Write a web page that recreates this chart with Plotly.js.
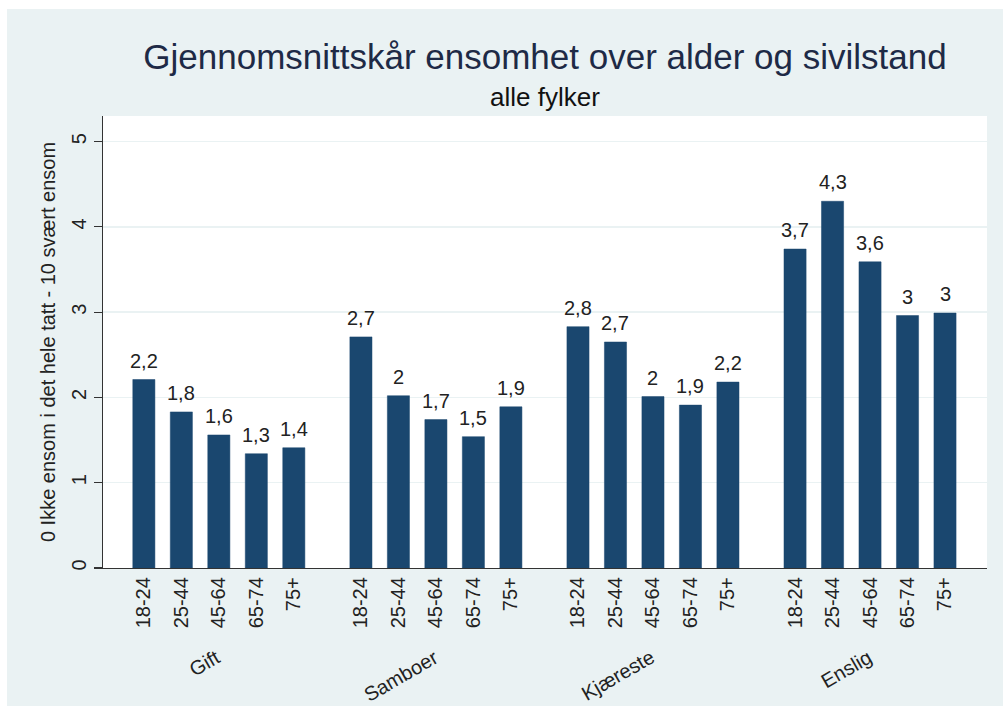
<!DOCTYPE html>
<html>
<head>
<meta charset="utf-8">
<script src="https://cdn.plot.ly/plotly-3.0.1.min.js"></script>
<style>html,body{margin:0;padding:0;background:#fff;}#chart{width:1003px;height:706px;}</style>
</head>
<body>
<div id="chart"></div>
<script>
const groups = ["Gift", "Samboer", "Kjæreste", "Enslig"];
const ages = ["18-24", "25-44", "45-64", "65-74", "75+"];
const gift = [2.21, 1.83, 1.56, 1.34, 1.41];
const samboer = [2.71, 2.02, 1.74, 1.54, 1.89];
const kjaereste = [2.83, 2.65, 2.01, 1.91, 2.18];
const enslig = [3.74, 4.30, 3.59, 2.96, 2.99];
const seriesByGroup = [gift, samboer, kjaereste, enslig];

const groupStep = 5.79;
const xs = [], ys = [], tickText = [], labels = [];
seriesByGroup.forEach((vals, g) => {
  vals.forEach((v, i) => {
    xs.push(g * groupStep + i);
    ys.push(v);
    tickText.push(ages[i]);
    labels.push(String(Math.round(v * 10) / 10).replace('.', ','));
  });
});

const FONT = "Liberation Sans, Arial, sans-serif";
const plotL = 103, plotR = 987, plotT = 116, plotB = 568;
const pw = plotR - plotL, ph = plotB - plotT;

const groupAnn = groups.map((g, gi) => ({
  text: g, x: gi * groupStep + 2, xref: 'x', y: -(643 - plotB) / ph, yref: 'paper',
  xanchor: 'right', yanchor: 'top', xshift: 8, textangle: -30, showarrow: false,
  font: {family: FONT, size: 20, color: '#222'}
}));

const valueAnn = xs.map((x, k) => ({
  text: labels[k], x: x, xref: 'x', y: ys[k], yref: 'y',
  xanchor: 'center', yanchor: 'bottom', yshift: 6, showarrow: false,
  font: {family: FONT, size: 20, color: '#222'}
}));

const trace = {
  type: 'bar', x: xs, y: ys, width: 0.59,
  marker: {color: '#1a476f', line: {color: '#1a476f', width: 0.5}},
  hoverinfo: 'skip'
};

const layout = {
  width: 1003, height: 706,
  margin: {l: plotL, r: 1003 - plotR, t: plotT, b: 706 - plotB},
  paper_bgcolor: '#eaf2f3', plot_bgcolor: '#ffffff',
  font: {family: FONT, color: '#222'},
  showlegend: false,
  title: {
    text: 'Gjennomsnittskår ensomhet over alder og sivilstand',
    font: {family: FONT, size: 35, color: '#1e2a46'},
    x: 0.5, xref: 'paper', y: 1 - 57 / 706, yref: 'container', yanchor: 'middle'
  },
  xaxis: {
    range: [-1.09, 3 * groupStep + 4 + 1.12],
    tickvals: xs, ticktext: tickText, tickangle: -90,
    tickfont: {family: FONT, size: 20, color: '#222'},
    ticks: '', showgrid: false, zeroline: false,
    showline: true, linecolor: '#333', linewidth: 1.2, fixedrange: true
  },
  yaxis: {
    range: [0, 5.3], tickvals: [0, 1, 2, 3, 4, 5], tickangle: -90,
    tickfont: {family: FONT, size: 20, color: '#222'},
    ticks: 'outside', ticklen: 8, tickcolor: '#333', tickwidth: 1.2,
    showgrid: true, gridcolor: '#eaf2f3', gridwidth: 1.5, zeroline: false,
    showline: true, linecolor: '#333', linewidth: 1.2,
    title: {text: '0 Ikke ensom i det hele tatt - 10 svært ensom', font: {family: FONT, size: 20, color: '#222'}, standoff: 6},
    fixedrange: true
  },
  annotations: groupAnn.concat(valueAnn, [{
    text: 'alle fylker', xref: 'paper', x: 0.5, yref: 'paper', y: 1 + (plotT - 97) / ph,
    xanchor: 'center', yanchor: 'middle', showarrow: false,
    font: {family: FONT, size: 26, color: '#111'}
  }]),
  shapes: [
    {type: 'rect', xref: 'paper', yref: 'paper', x0: -plotL / pw, x1: (7 - plotL) / pw, y0: -(706 - plotB) / ph, y1: 1 + plotT / ph, fillcolor: '#fff', line: {width: 0}, layer: 'below'},
    {type: 'rect', xref: 'paper', yref: 'paper', x0: -plotL / pw, x1: 1 + (1003 - plotR) / pw, y0: 1 + (plotT - 9) / ph, y1: 1 + plotT / ph, fillcolor: '#fff', line: {width: 0}, layer: 'below'}
  ]
};

Plotly.newPlot('chart', [trace], layout, {displayModeBar: false, staticPlot: true});
</script>
</body>
</html>
